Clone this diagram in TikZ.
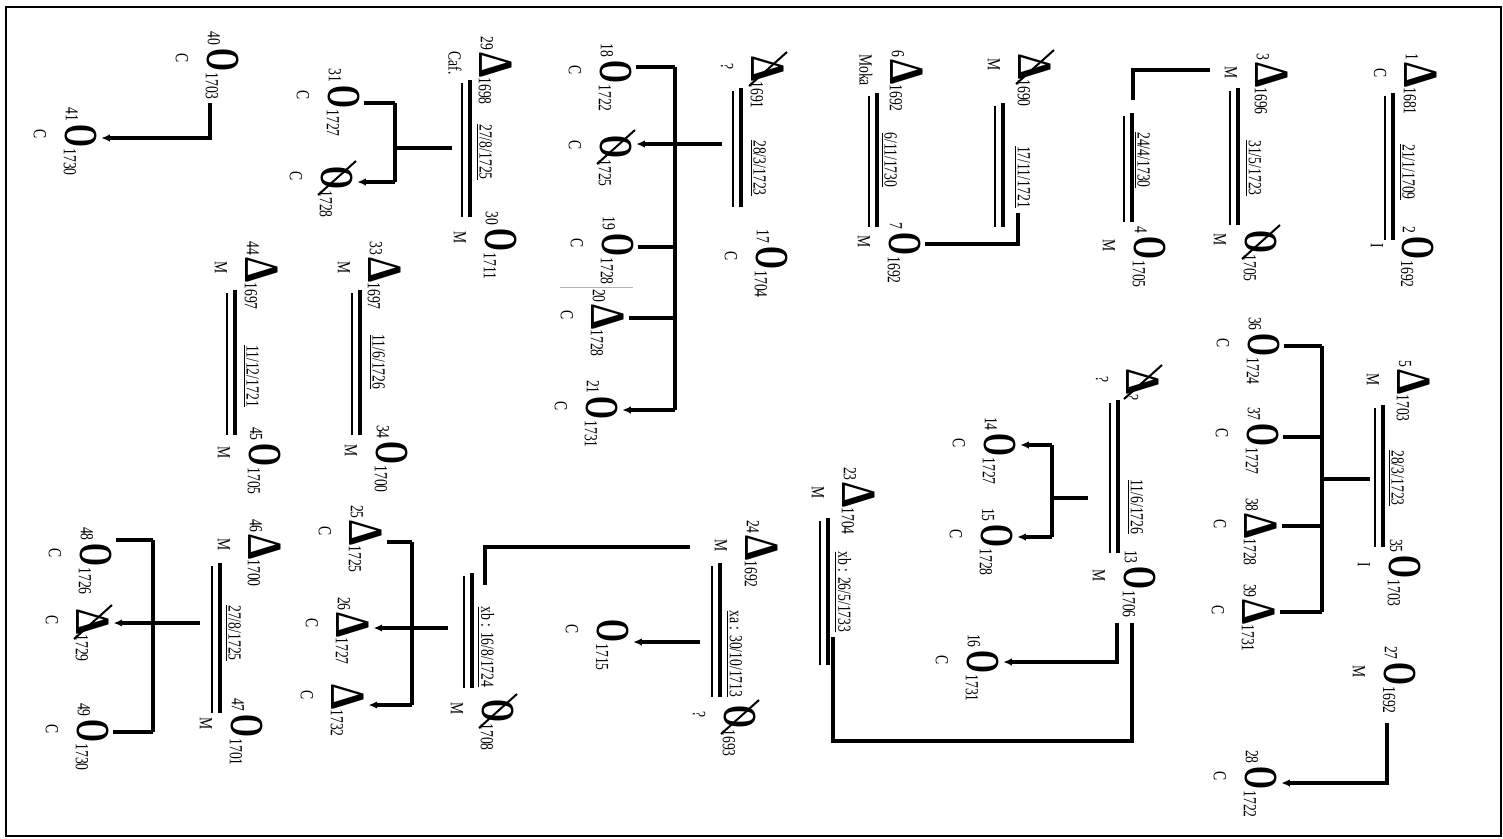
\documentclass[tikz,border=0pt]{standalone}
\usepackage{fontspec}
\setmainfont{Liberation Serif}[FakeStretch=0.74]
\newfontfamily\trifont{Liberation Serif}[FakeStretch=0.82]
\newfontfamily\ovlfont{Liberation Serif}[FakeStretch=0.62]
\usetikzlibrary{calc,arrows.meta}
% symbols: male / female
\newcommand{\Tri}{{\trifont\bfseries\fontsize{28}{28}\selectfont Δ}}
\newcommand{\Ovl}{{\ovlfont\bfseries\fontsize{27}{27}\selectfont O}}
% person: name, x, y, symbol, number, label, year
\newcommand{\pers}[7]{%
  \node[sym] (#1) at (#2,#3) {#4};
  \node[txt,anchor=east] (#1-n) at ($(#1)+(-9,-14)$) {#5};
  \node[txt] (#1-l) at ($(#1)+(-41,-2)$) {#6};
  \node[txt,anchor=west] (#1-y) at ($(#1)+(-11,12)$) {#7};}
\newcommand{\dead}[1]{\draw[xline] ($(#1)+(-19,17)$) -- ($(#1)+(19,-17)$);}
% marriage: y from, y to, x of thick line
\newcommand{\marr}[3]{%
  \draw[wed] (#3,#1) -- (#3,#2);
  \draw[wedthin] (#3-8,#1+3) -- (#3-8,#2);}
\newcommand{\wdate}[4]{\node[txt] (#1) at (#2,#3) {\underline{#4}};}

\begin{document}
\begin{tikzpicture}[x=0.2mm,y=-0.2mm,
  sym/.style={rotate=-90,inner sep=0pt},
  txt/.style={rotate=-90,inner sep=0pt,font=\fontsize{10.5}{12}\selectfont},
  wed/.style={line width=0.95mm},
  wedthin/.style={line width=0.35mm},
  desc/.style={line width=0.75mm},
  twig/.style={desc,shorten >=0.8mm},
  kid/.style={desc,shorten >=0.8mm,-{Latex[length=1.7mm,width=1.5mm]}},
  xline/.style={line width=0.4mm}]
  \useasboundingbox (0,0) rectangle (1503,838);
  \draw[line width=0.3mm] (6,7) rectangle (1501,836);

  % persons
  \pers{p1}{1421}{75}{\Tri}{1}{C}{1681}
  \pers{p2}{1418}{248}{\Ovl}{2}{I}{1692}
  \pers{p3}{1272}{75}{\Tri}{3}{M}{1696}
  \pers{w1705}{1261}{242}{\Ovl}{}{M}{1705}\dead{w1705}
  \pers{p4}{1150}{248}{\Ovl}{4}{M}{1705}
  \pers{d1690}{1035}{67}{\Tri}{}{M}{1690}\dead{d1690}
  \pers{p6}{907}{72}{\Tri}{6}{Moka}{1692}
  \pers{p7}{905}{244}{\Ovl}{7}{M}{1692}
  \pers{d1691}{768}{69}{\Tri}{}{?}{1691}\dead{d1691}
  \pers{p17}{772}{258}{\Ovl}{17}{C}{1704}
  \pers{p18}{616}{72}{\Ovl}{18}{C}{1722}
  \pers{c1725}{616}{147}{\Ovl}{}{C}{1725}\dead{c1725}
  \pers{p19}{618}{245}{\Ovl}{19}{C}{1728}
  \pers{p20}{608}{317}{\Tri}{20}{C}{1728}
  \pers{p21}{602}{408}{\Ovl}{21}{C}{1731}
  \pers{p29}{496}{65}{\Tri}{29}{Caf.}{1698}
  \pers{p30}{501}{240}{\Ovl}{30}{M}{1711}
  \pers{p31}{344}{97}{\Ovl}{31}{C}{1727}
  \pers{c1728}{337}{178}{\Ovl}{}{C}{1728}\dead{c1728}
  \pers{p40}{223}{60}{\Ovl}{40}{C}{1703}
  \pers{p41}{81}{136}{\Ovl}{41}{C}{1730}
  \pers{p33}{385}{270}{\Tri}{33}{M}{1697}
  \pers{p34}{392}{453}{\Ovl}{34}{M}{1700}
  \pers{p44}{262}{270}{\Tri}{44}{M}{1697}
  \pers{p45}{265}{455}{\Ovl}{45}{M}{1705}
  \pers{p46}{265}{547}{\Tri}{46}{M}{1700}
  \pers{p47}{247}{726}{\Ovl}{47}{M}{1701}
  \pers{p48}{96}{555}{\Ovl}{48}{C}{1726}
  \pers{c1729}{93}{622}{\Tri}{}{C}{1729}\dead{c1729}
  \pers{p49}{93}{731}{\Ovl}{49}{C}{1730}
  \pers{p25}{366}{533}{\Tri}{25}{C}{1725}
  \pers{p26}{353}{625}{\Tri}{26}{C}{1727}
  \pers{c1732}{348}{697}{\Tri}{}{C}{1732}
  \pers{p24}{762}{548}{\Tri}{24}{M}{1692}
  \pers{c1693}{740}{717}{\Ovl}{}{?}{1693}\dead{c1693}
  \pers{c1715}{613}{631}{\Ovl}{}{C}{1715}
  \pers{c1708}{498}{711}{\Ovl}{}{M}{1708}\dead{c1708}
  \pers{p5}{1414}{382}{\Tri}{5}{M}{1703}
  \pers{p35}{1405}{567}{\Ovl}{35}{I}{1703}
  \pers{p36}{1264}{345}{\Ovl}{36}{C}{1724}
  \pers{p37}{1263}{435}{\Ovl}{37}{C}{1727}
  \pers{p38}{1261}{526}{\Tri}{38}{C}{1728}
  \pers{p39}{1259}{612}{\Tri}{39}{C}{1731}
  \pers{p27}{1400}{674}{\Ovl}{27}{M}{1692}
  \pers{p28}{1261}{778}{\Ovl}{28}{C}{1722}
  \pers{dq}{1143}{382}{\Tri}{}{?}{?}\dead{dq}
  \pers{p13}{1140}{578}{\Ovl}{13}{M}{1706}
  \pers{p14}{1000}{445}{\Ovl}{14}{C}{1727}
  \pers{p15}{997}{536}{\Ovl}{15}{C}{1728}
  \pers{p16}{983}{662}{\Ovl}{16}{C}{1731}
  \pers{p23}{859}{495}{\Tri}{23}{M}{1704}

  % marriages and dates
  \marr{93}{240}{1393}   \wdate{m1}{1407}{172}{21/1/1709}
  \marr{88}{225}{1238}   \wdate{m3a}{1253}{168}{31/5/1723}
  \marr{113}{222}{1132}  \wdate{m3b}{1142}{160}{24/4/1730}
  \marr{103}{227}{1003}  \wdate{m1690}{1022}{177}{17/11/1721}
  \marr{93}{227}{877}    \wdate{m6}{889}{160}{6/11/1730}
  \marr{88}{207}{741}    \wdate{m1691}{758}{168}{28/3/1723}
  \marr{80}{217}{470}    \wdate{m29}{484}{152}{27/8/1725}
  \marr{290}{435}{360}   \wdate{m33}{377}{362}{11/6/1726}
  \marr{290}{435}{235}   \wdate{m44}{251}{376}{11/12/1721}
  \marr{563}{713}{220}   \wdate{m46}{233}{633}{27/8/1725}
  \marr{563}{697}{720}   \wdate{m24a}{734}{654}{xa : 30/10/1713}
  \marr{573}{688}{472}   \wdate{m24b}{486}{647}{xb : 16/8/1724}
  \marr{405}{547}{1383}  \wdate{m5}{1396}{478}{28/3/1723}
  \marr{400}{553}{1118}  \wdate{mq}{1135}{507}{11/6/1726}
  \marr{518}{665}{828}   \wdate{m23}{843}{592}{xb : 26/5/1733}

  % second marriages
  \draw[desc] (1210,70) -| (1133,100);
  \draw[twig] (1018,213) |- (p7.north);
  \draw[desc] (690,547) -| (485,585);
  \draw[desc] (833,637) |- (1132,741) -- (1132,623);
  \draw[kid] (1117,623) |- (p16.north |- 0,662);
  \draw[kid] (1387,723) |- (p28.north |- 0,783);
  \draw[kid] (210,103) |- (p41.north |- 0,138);

  % children of the 1691 couple
  \draw[kid] (722,144) -- (c1725.north |- 0,144);
  \draw[desc] (675,67) -- (675,410);
  \draw[twig] (675,67) -- (p18.north |- 0,67);
  \draw[twig] (675,247) -- (p19.north |- 0,247);
  \draw[twig] (675,318) -- (p20.north |- 0,318);
  \draw[kid] (675,410) -- (p21.north |- 0,410);
  % children of 29 and 30
  \draw[desc] (452,148) -- (395,148);
  \draw[desc] (395,103) -- (395,182);
  \draw[twig] (395,103) -- (p31.north |- 0,103);
  \draw[kid] (395,182) -- (c1728.north |- 0,182);
  % children of 46 and 47
  \draw[kid] (200,623) -- (c1729.north |- 0,623);
  \draw[desc] (153,540) -- (153,732);
  \draw[twig] (153,540) -- (p48.north |- 0,540);
  \draw[twig] (153,732) -- (p49.north |- 0,732);
  % children of 24
  \draw[kid] (700,642) -- (c1715.north |- 0,642);
  \draw[kid] (448,628) -- (p26.north |- 0,628);
  \draw[desc] (412,542) -- (412,705);
  \draw[twig] (412,542) -- (p25.north |- 0,542);
  \draw[kid] (412,705) -- (c1732.north |- 0,705);
  % children of 5 and 35
  \draw[desc] (1370,479) -- (1322,479);
  \draw[desc] (1322,346) -- (1322,612);
  \draw[twig] (1322,346) -- (p36.north |- 0,346);
  \draw[twig] (1322,437) -- (p37.north |- 0,437);
  \draw[twig] (1322,526) -- (p38.north |- 0,526);
  \draw[twig] (1322,612) -- (p39.north |- 0,612);
  % children of 13
  \draw[desc] (1088,498) -- (1052,498);
  \draw[desc] (1052,445) -- (1052,537);
  \draw[kid] (1052,445) -- (p14.north |- 0,445);
  \draw[kid] (1052,537) -- (p15.north |- 0,537);

  \draw[gray!60,line width=0.15mm] (560,287) -- (633,287);
\end{tikzpicture}
\end{document}
